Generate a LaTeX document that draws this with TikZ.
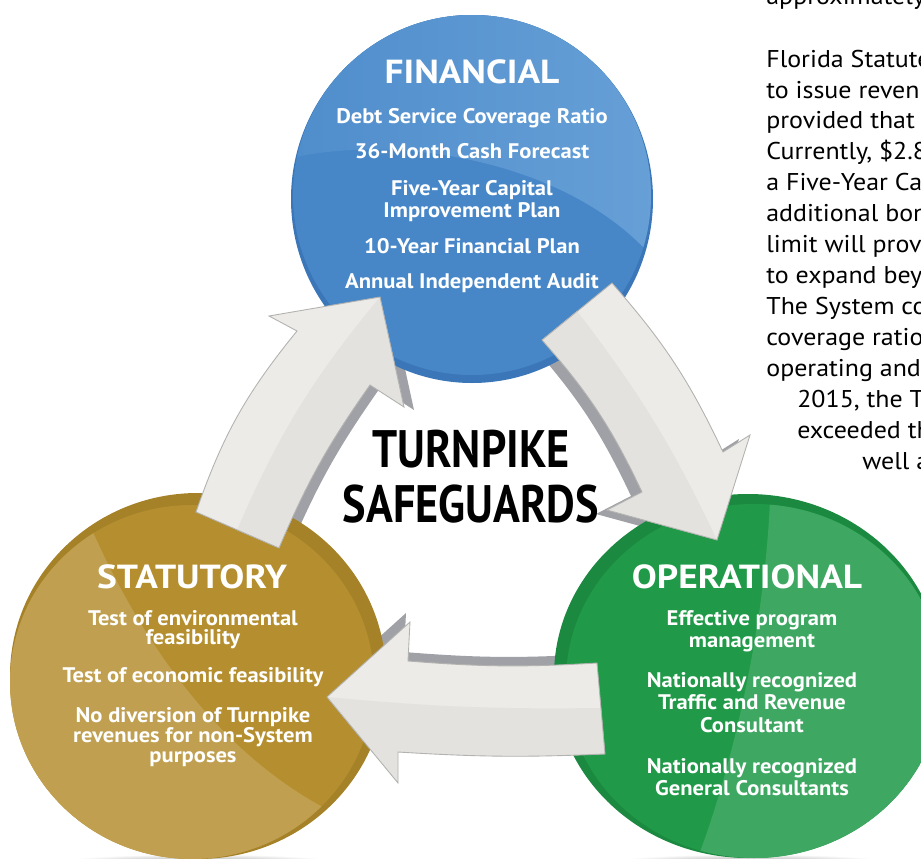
\documentclass[tikz,border=0pt]{standalone}
\usepackage{fontspec}
\setmainfont{PT Sans}
\newfontfamily\narrowsans[FakeStretch=0.84]{PT Sans}
\newfontfamily\widesans[FakeStretch=1.07]{PT Sans}
\newfontfamily\headsans[FakeStretch=1.12]{PT Sans}
\definecolor{finblue}{RGB}{71,135,200}
\definecolor{finrim}{RGB}{58,118,184}
\definecolor{finlight}{RGB}{106,162,216}
\definecolor{statgold}{RGB}{181,143,47}
\definecolor{statrim}{RGB}{165,129,40}
\definecolor{statlight}{RGB}{192,160,80}
\definecolor{opgreen}{RGB}{32,154,72}
\definecolor{oprim}{RGB}{27,138,64}
\definecolor{oplight}{RGB}{62,168,98}
\definecolor{cyclefill}{RGB}{236,235,231}
\definecolor{cyclecrease}{RGB}{227,226,222}
\definecolor{cycleedge}{RGB}{178,178,176}
\definecolor{cycleshadow}{RGB}{160,161,166}

% outlines of the three cycle arrows
\newcommand\arrowup{(l-to) to[bend left=10] (l-no) -- (l-bo) -- (l-tip) -- (l-bi) -- (l-ni) to[bend right=6] (l-ti) -- cycle}
\newcommand\arrowdown{(r-to) to[bend left=8] (r-no) -- (r-bo) -- (r-tip) -- (r-bi) -- (r-ni) to[bend right=8] (r-ti) -- cycle}
\newcommand\arrowback{(b-to) to[bend left=4] (b-no) -- (b-bo) -- (b-tip) -- (b-bi) -- (b-ni) to[bend right=3] (b-ti) -- cycle}

\begin{document}
\begin{tikzpicture}[x=0.02cm, y=-0.02cm,
    head/.style={font=\headsans\fontsize{19}{19}\selectfont\bfseries, text=white, anchor=base, inner sep=0pt},
    item/.style={font=\widesans\fontsize{12}{12}\selectfont\bfseries, text=white, anchor=base, inner sep=0pt},
    title/.style={font=\narrowsans\fontsize{30}{30}\selectfont\bfseries, text=black, anchor=base, inner sep=0pt},
    body/.style={font=\widesans\fontsize{13.8}{14}\selectfont, text=black, anchor=base west, inner sep=0pt},
    cycshadow/.style={fill=cycleshadow},
    cycbody/.style={fill=cyclefill},
    cycline/.style={draw=cycleedge, line width=0.5pt}]

  \clip (0,0) rectangle (921,859);

  % running text of the page
  \foreach \x/\y/\t in {766/4/approximately, 766/67/Florida Statute, 766/98/to issue revenu,
      766/128/provided that, 766/159/{Currently, \$2.8}, 766/190/a Five-Year Cap,
      766/221/additional bon, 766/252/limit will provi, 766/283/to expand bey,
      766/314/The System co, 766/345/coverage ratio, 766/376/operating and,
      797/407/{2015, the Tu}, 797/438/exceeded th, 862/469/well a}
    \node[body] (page\y) at (\x,\y) {\t};

  % arrow corners
  \coordinate (l-to) at (196,512);  \coordinate (l-ti) at (279,548);
  \coordinate (l-no) at (297,331);  \coordinate (l-bo) at (269,316);
  \coordinate (l-tip) at (380,297);
  \coordinate (l-bi) at (404,407);  \coordinate (l-ni) at (370,385);
  \coordinate (l-mid) at (237,530);

  \coordinate (r-to) at (612,283);  \coordinate (r-ti) at (542,340);
  \coordinate (r-no) at (723,452);  \coordinate (r-bo) at (750,435);
  \coordinate (r-tip) at (717,540);
  \coordinate (r-bi) at (607,510);  \coordinate (r-ni) at (642,492);
  \coordinate (r-mid) at (577,311);

  \coordinate (b-to) at (597,663);  \coordinate (b-ti) at (605,754);
  \coordinate (b-no) at (408,661);  \coordinate (b-bo) at (410,622);
  \coordinate (b-tip) at (327,697);
  \coordinate (b-bi) at (398,783);  \coordinate (b-ni) at (398,752);
  \coordinate (b-mid) at (601,708);

  % floor shadows
  \shade[inner color=black!45, outer color=white] (198,864) ellipse [x radius=150, y radius=10];
  \shade[inner color=black!45, outer color=white] (750,864) ellipse [x radius=150, y radius=10];

  % drop shadows of the arrows
  \fill[cycshadow, transform canvas={xshift=0.2cm, yshift=-0.06cm}] \arrowup;
  \fill[cycshadow, transform canvas={xshift=-0.22cm, yshift=-0.08cm}] \arrowdown;
  \fill[cycshadow, transform canvas={xshift=-0.08cm, yshift=0.18cm}] \arrowback;

  % financial
  \fill[finrim] (472,199) ellipse [x radius=181, y radius=184];
  \fill[finblue] (472,195) ellipse [x radius=179, y radius=180];
  \begin{scope}
    \clip (472,195) ellipse [x radius=179, y radius=180];
    \shade[left color=finblue!80!finlight, right color=finlight]
      (296,157) .. controls (400,135) and (560,160) .. (646,250) -- (700,250) -- (700,0) -- (280,0) -- cycle;
  \end{scope}

  % statutory
  \fill[statrim] (198,676) ellipse [x radius=188, y radius=183];
  \fill[statgold] (192,682) ellipse [x radius=182, y radius=177];
  \begin{scope}
    \clip (192,682) ellipse [x radius=182, y radius=177];
    \fill[statlight] (92,530) .. controls (150,660) and (230,760) .. (332,812) -- (360,900) -- (-20,900) -- (-20,530) -- cycle;
  \end{scope}

  % operational
  \fill[oprim] (748,676) ellipse [x radius=194, y radius=182];
  \fill[opgreen] (754,681) ellipse [x radius=188, y radius=177];
  \begin{scope}
    \clip (754,681) ellipse [x radius=188, y radius=177];
    \fill[oplight] (770,500) .. controls (765,620) and (735,760) .. (697,860) -- (960,900) -- (960,480) -- cycle;
  \end{scope}

  % the cycle
  \fill[cycbody] \arrowup;
  \fill[cyclecrease] (l-mid) to[bend left=8] (l-tip) -- (l-bi) -- (l-ni) to[bend right=6] (l-ti) -- cycle;
  \draw[cycline] \arrowup;

  \fill[cycbody] \arrowdown;
  \fill[cyclecrease] (r-mid) to[bend left=6] (r-tip) -- (r-bi) -- (r-ni) to[bend right=8] (r-ti) -- cycle;
  \draw[cycline] \arrowdown;

  \fill[cycbody] \arrowback;
  \fill[cyclecrease] (b-mid) to[bend left=3] (b-tip) -- (b-bi) -- (b-ni) to[bend right=3] (b-ti) -- cycle;
  \draw[cycline] \arrowback;

  % labels
  \node[head] (fin) at (472,83) {FINANCIAL};
  \foreach \y/\t in {123/Debt Service Coverage Ratio, 158/36-Month Cash Forecast,
      195/Five-Year Capital, 217/Improvement Plan, 253/10-Year Financial Plan,
      288/Annual Independent Audit}
    \node[item] (fin\y) at (472,\y) {\t};

  \node[head] (stat) at (192,588) {STATUTORY};
  \foreach \y/\t in {625/Test of environmental, 644/feasibility, 682/Test of economic feasibility,
      722/No diversion of Turnpike, 742/revenues for non-System, 762/purposes}
    \node[item] (stat\y) at (193,\y) {\t};

  \node[head] (op) at (747,588) {OPERATIONAL};
  \foreach \y/\t in {625/Effective program, 647/management, 687/Nationally recognized,
      709/Traffic and Revenue, 732/Consultant, 773/Nationally recognized,
      795/General Consultants}
    \node[item] (op\y) at (752,\y) {\t};

  \node[title] (turnpike) at (471,467) {TURNPIKE};
  \node[title] (safeguards) at (471,522) {SAFEGUARDS};
\end{tikzpicture}
\end{document}
